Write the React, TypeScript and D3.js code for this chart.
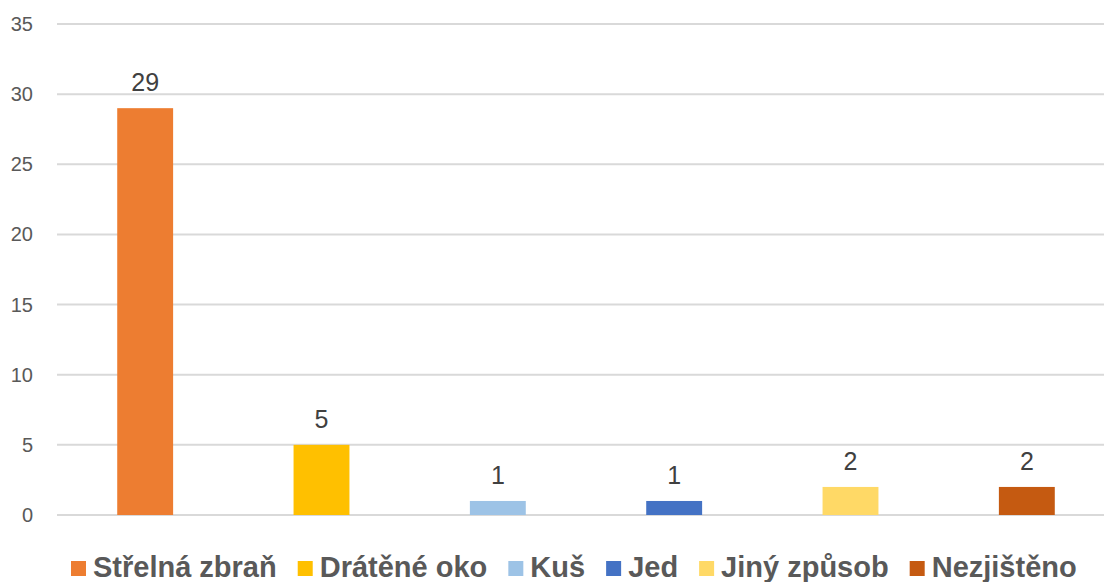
import React, { useEffect, useRef } from "react";
import * as d3 from "d3";

const categories = ["Střelná zbraň", "Drátěné oko", "Kuš", "Jed", "Jiný způsob", "Nezjištěno"];
const values = [29, 5, 1, 1, 2, 2];
const colors = ["#ED7D31", "#FFC000", "#9DC3E6", "#4472C4", "#FFD966", "#C55A11"];
const yTicks = [0, 5, 10, 15, 20, 25, 30, 35];

const W = 1104;
const H = 582;

export default function App() {
  const ref = useRef<SVGSVGElement | null>(null);

  useEffect(() => {
    const svg = d3.select(ref.current);
    svg.selectAll("*").remove();

    const x = d3.scaleBand<string>().domain(categories).range([57, 1115]).paddingInner(0.683).paddingOuter(0.3415);
    const y = d3.scaleLinear().domain([0, 35]).range([515, 24]);

    const g = svg.append("g");
    g.selectAll("line.grid")
      .data(yTicks)
      .enter()
      .append("line")
      .attr("x1", 57)
      .attr("x2", W)
      .attr("y1", (d) => y(d))
      .attr("y2", (d) => y(d))
      .attr("stroke", "#d9d9d9")
      .attr("stroke-width", 2);

    g.selectAll("text.tick")
      .data(yTicks)
      .enter()
      .append("text")
      .attr("x", 33)
      .attr("y", (d) => y(d))
      .attr("dy", "0.35em")
      .attr("text-anchor", "end")
      .attr("font-family", "Liberation Sans, Arial, sans-serif")
      .attr("font-size", 20)
      .attr("fill", "#595959")
      .text((d) => String(d));

    const data = categories.map((c, i) => ({ c, v: values[i], col: colors[i] }));

    g.selectAll("rect.bar")
      .data(data)
      .enter()
      .append("rect")
      .attr("x", (d) => x(d.c)!)
      .attr("width", x.bandwidth())
      .attr("y", (d) => y(d.v))
      .attr("height", (d) => y(0) - y(d.v))
      .attr("fill", (d) => d.col);

    g.selectAll("text.val")
      .data(data)
      .enter()
      .append("text")
      .attr("x", (d) => x(d.c)! + x.bandwidth() / 2)
      .attr("y", (d) => y(d.v) - 17)
      .attr("text-anchor", "middle")
      .attr("font-family", "Liberation Sans, Arial, sans-serif")
      .attr("font-size", 25)
      .attr("fill", "#404040")
      .text((d) => String(d.v));

    // legend
    const lg = svg.append("g");
    let cx = 71;
    data.forEach((d) => {
      lg.append("rect").attr("x", cx).attr("y", 561).attr("width", 15).attr("height", 15).attr("fill", d.col);
      const t = lg
        .append("text")
        .attr("x", cx + 22)
        .attr("y", 577)
        .attr("font-family", "Liberation Sans, Arial, sans-serif")
        .attr("font-weight", "bold")
        .attr("font-size", 29)
        .attr("fill", "#595959")
        .text(d.c);
      const w = (t.node() as SVGTextElement).getComputedTextLength();
      cx = cx + 22 + w + 21;
    });
  }, []);

  return (
    <svg
      ref={ref}
      width={W}
      height={H}
      style={{ position: "absolute", left: 0, top: 0, background: "#fff" }}
    />
  );
}
